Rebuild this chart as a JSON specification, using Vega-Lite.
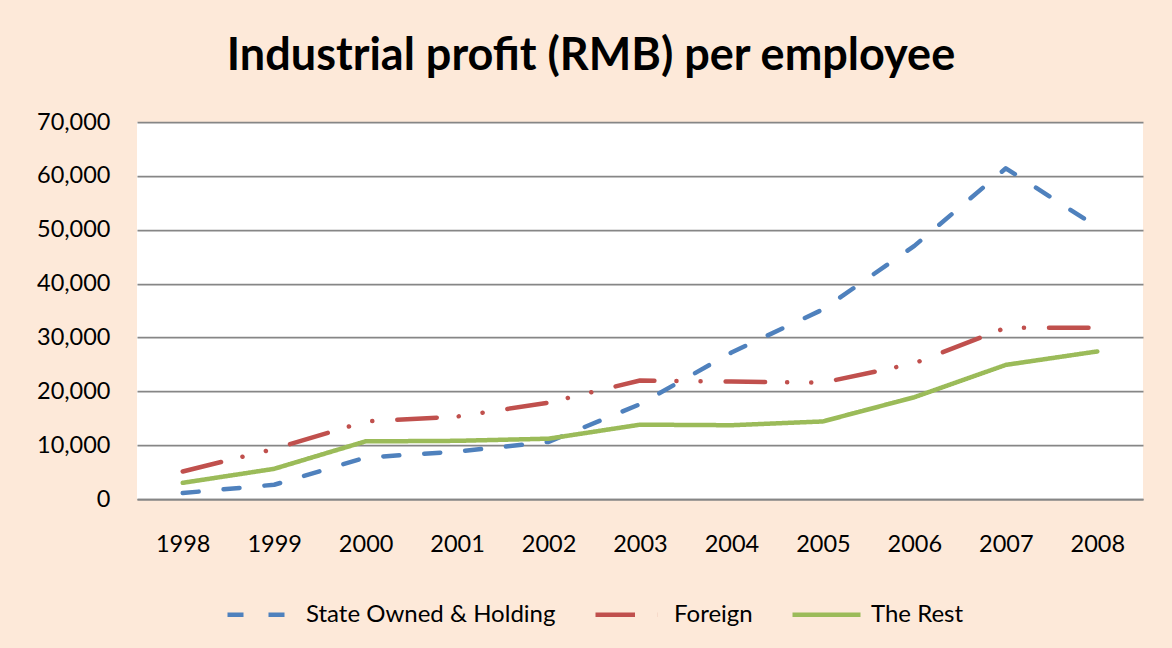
{
  "$schema": "https://vega.github.io/schema/vega-lite/v6.json",
  "autosize": {"type": "none"},
  "width": 1006,
  "height": 377,
  "padding": {"left": 137, "top": 122, "right": 29, "bottom": 149},
  "background": "#FDE9D9",
  "title": {
    "text": "Industrial profit (RMB) per employee",
    "font": "Lato",
    "fontSize": 45,
    "fontWeight": "bold",
    "color": "#000000",
    "anchor": "middle",
    "dx": -49,
    "dy": 50,
    "baseline": "alphabetic",
    "offset": 45
  },
  "config": {
    "view": {"fill": "white", "stroke": null},
    "axis": {
      "labelFont": "Lato",
      "labelFontSize": 23.5,
      "labelColor": "#000000",
      "ticks": false,
      "domain": false,
      "title": null
    },
    "legend": {
      "labelFont": "Lato",
      "labelFontSize": 24,
      "labelColor": "#000000",
      "labelLimit": 400
    }
  },
  "data": {
    "values": [
      {"year": "1998", "series": "State Owned & Holding", "profit": 1100},
      {"year": "1999", "series": "State Owned & Holding", "profit": 2650},
      {"year": "2000", "series": "State Owned & Holding", "profit": 7700},
      {"year": "2001", "series": "State Owned & Holding", "profit": 8800},
      {"year": "2002", "series": "State Owned & Holding", "profit": 10600},
      {"year": "2003", "series": "State Owned & Holding", "profit": 17600},
      {"year": "2004", "series": "State Owned & Holding", "profit": 27200},
      {"year": "2005", "series": "State Owned & Holding", "profit": 35200},
      {"year": "2006", "series": "State Owned & Holding", "profit": 47000},
      {"year": "2007", "series": "State Owned & Holding", "profit": 61400},
      {"year": "2008", "series": "State Owned & Holding", "profit": 50500},
      {"year": "1998", "series": "Foreign", "profit": 5100},
      {"year": "1999", "series": "Foreign", "profit": 9300},
      {"year": "2000", "series": "Foreign", "profit": 14400},
      {"year": "2001", "series": "Foreign", "profit": 15300},
      {"year": "2002", "series": "Foreign", "profit": 17900},
      {"year": "2003", "series": "Foreign", "profit": 22000},
      {"year": "2004", "series": "Foreign", "profit": 21800},
      {"year": "2005", "series": "Foreign", "profit": 21600},
      {"year": "2006", "series": "Foreign", "profit": 25200},
      {"year": "2007", "series": "Foreign", "profit": 31800},
      {"year": "2008", "series": "Foreign", "profit": 31800},
      {"year": "1998", "series": "The Rest", "profit": 3000},
      {"year": "1999", "series": "The Rest", "profit": 5600},
      {"year": "2000", "series": "The Rest", "profit": 10700},
      {"year": "2001", "series": "The Rest", "profit": 10800},
      {"year": "2002", "series": "The Rest", "profit": 11200},
      {"year": "2003", "series": "The Rest", "profit": 13800},
      {"year": "2004", "series": "The Rest", "profit": 13700},
      {"year": "2005", "series": "The Rest", "profit": 14400},
      {"year": "2006", "series": "The Rest", "profit": 18900},
      {"year": "2007", "series": "The Rest", "profit": 24900},
      {"year": "2008", "series": "The Rest", "profit": 27400}
    ]
  },
  "mark": {"type": "line", "strokeWidth": 4.5, "strokeCap": "round", "strokeJoin": "round"},
  "encoding": {
    "x": {
      "field": "year",
      "type": "ordinal",
      "scale": {"type": "point", "padding": 0.5},
      "axis": {"labelAngle": 0, "labelPadding": 33, "grid": false, "domain": true, "domainColor": "#868686", "domainWidth": 1.75}
    },
    "y": {
      "field": "profit",
      "type": "quantitative",
      "scale": {"domain": [0, 70000], "nice": false},
      "axis": {"values": [0, 10000, 20000, 30000, 40000, 50000, 60000, 70000], "format": ",d", "labelPadding": 27, "grid": true, "gridColor": "#868686", "gridWidth": 1.75, "gridOpacity": 1}
    },
    "color": {
      "field": "series",
      "type": "nominal",
      "scale": {"domain": ["State Owned & Holding", "Foreign", "The Rest"], "range": ["#4F81BD", "#C0504D", "#9BBB59"]},
      "legend": {
        "title": null,
        "orient": "none",
        "direction": "horizontal",
        "legendX": 88,
        "legendY": 456,
        "symbolType": "stroke",
        "symbolSize": 4624,
        "symbolStrokeWidth": 4.5,
        "columnPadding": 30,
        "labelOffset": 8,
        "labelLimit": 400
      }
    },
    "strokeDash": {
      "field": "series",
      "type": "nominal",
      "scale": {"domain": ["State Owned & Holding", "Foreign", "The Rest"], "range": [[16, 25], [39.5, 22, 0.1, 24, 0.1, 25], [1, 0]]},
      "legend": {
        "title": null,
        "orient": "none",
        "direction": "horizontal",
        "legendX": 88,
        "legendY": 456,
        "symbolType": "stroke",
        "symbolSize": 4624,
        "symbolStrokeWidth": 4.5,
        "columnPadding": 30,
        "labelOffset": 8,
        "labelLimit": 400
      }
    }
  }
}
